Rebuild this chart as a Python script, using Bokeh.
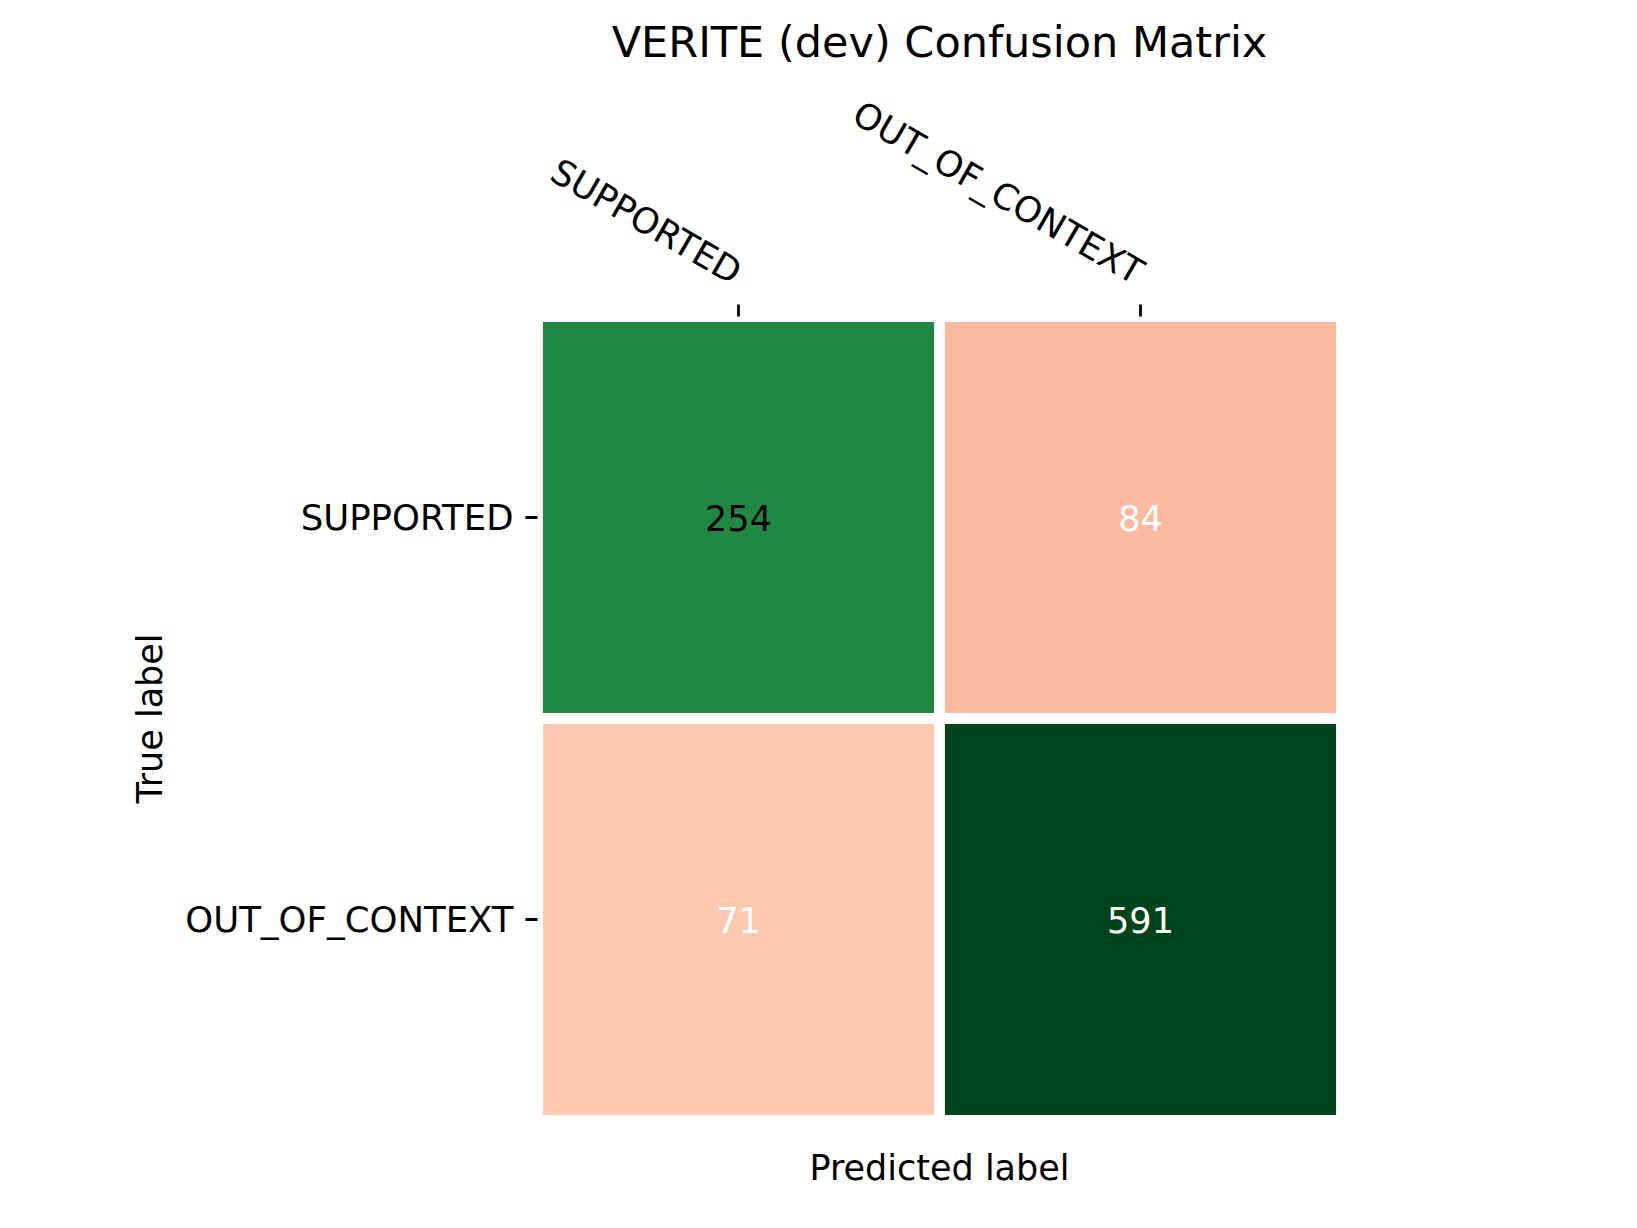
import math
from bokeh.plotting import figure
from bokeh.models import FactorRange, CategoricalAxis, FixedTicker, ColumnDataSource
from bokeh.embed import file_html
from bokeh.resources import INLINE
from bokeh.core.properties import value

# ---- data ----
categories = ["SUPPORTED", "OUT_OF_CONTEXT"]
true_labels = ["SUPPORTED", "SUPPORTED", "OUT_OF_CONTEXT", "OUT_OF_CONTEXT"]
pred_labels = ["SUPPORTED", "OUT_OF_CONTEXT", "SUPPORTED", "OUT_OF_CONTEXT"]
counts = [254, 84, 71, 591]
cell_colors = ["#208843", "#fcbba1", "#fcc8b1", "#00441b"]
text_colors = ["#000000", "#ffffff", "#ffffff", "#ffffff"]

FONT = "DejaVu Sans"

source = ColumnDataSource(dict(
    x=pred_labels, y=true_labels, count=[str(c) for c in counts],
    color=cell_colors, tcolor=text_colors,
))

p = figure(
    x_range=FactorRange(factors=categories, range_padding=0),
    y_range=FactorRange(factors=list(reversed(categories)), range_padding=0),
    x_axis_location="above",
    frame_width=804, frame_height=804,
    min_border_left=537, min_border_right=279,
    min_border_top=316, min_border_bottom=90,
    output_backend="svg", toolbar_location=None,
    title="VERITE (dev) Confusion Matrix",
)
p.background_fill_color = "white"
p.border_fill_color = "white"
p.outline_line_color = None
p.xgrid.visible = False
p.ygrid.visible = False

p.title.text_font = FONT
p.title.text_font_size = "43px"
p.title.text_font_style = "normal"
p.title.align = "center"
p.title.text_color = "black"
p.title.text_line_height = 0.9

p.rect(x="x", y="y", width=0.973, height=0.973, source=source,
       fill_color="color", line_color=None)
p.text(x="x", y="y", text="count", source=source, text_color="tcolor",
       text_align="center", text_baseline="middle",
       text_font=value(FONT), text_font_size="35px")

for ax in p.xaxis + p.yaxis:
    ax.axis_line_color = None
    ax.major_tick_in = 0
    ax.major_tick_out = 12
    ax.major_tick_line_width = 2.8
    ax.major_tick_line_color = "black"
    ax.major_label_text_font = FONT
    ax.major_label_text_font_size = "35.5px"
    ax.major_label_text_color = "black"
    ax.major_label_standoff = 12
    ax.axis_label_text_font = FONT
    ax.axis_label_text_font_size = "35px"
    ax.axis_label_text_font_style = "normal"
    ax.axis_label_text_color = "black"

p.xaxis.major_label_orientation = -math.pi / 6
p.xaxis.major_label_standoff = 30

p.yaxis.axis_label = "True label"
p.yaxis.axis_label_standoff = 12

bottom = CategoricalAxis(ticker=FixedTicker(ticks=[]), axis_label="Predicted label")
bottom.axis_line_color = None
bottom.major_tick_line_color = None
bottom.minor_tick_line_color = None
bottom.major_tick_out = 0
bottom.major_tick_in = 0
bottom.major_label_standoff = 0
bottom.axis_label_standoff = 27
bottom.axis_label_text_font = FONT
bottom.axis_label_text_font_size = "35px"
bottom.axis_label_text_font_style = "normal"
bottom.axis_label_text_color = "black"
p.add_layout(bottom, "below")

open("out.html", "w").write(file_html(p, INLINE))
